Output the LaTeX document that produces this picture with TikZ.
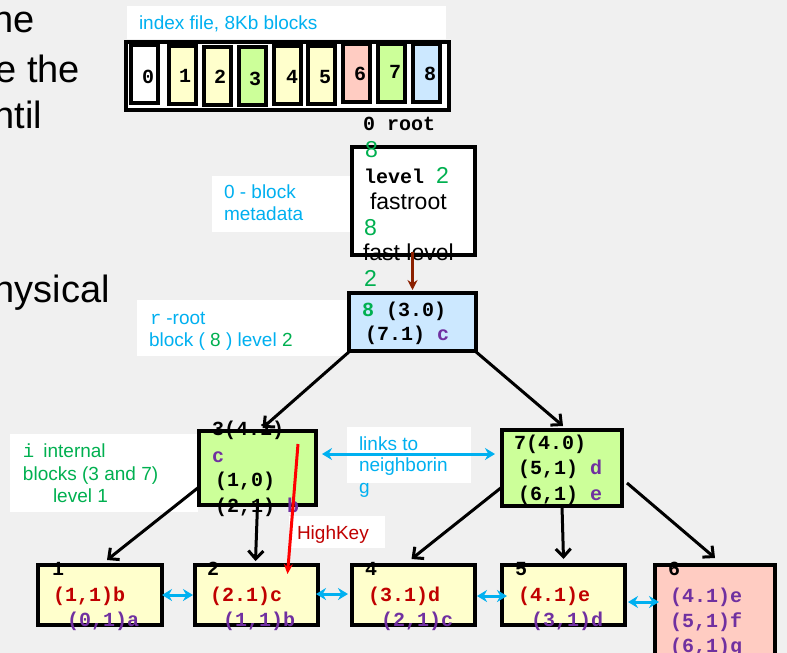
\documentclass[tikz,border=0pt]{standalone}
\usepackage{fontspec}
\setmainfont{Liberation Sans}
\setmonofont{Liberation Mono}
\usetikzlibrary{arrows.meta}

\definecolor{bg}{HTML}{F0F0F0}
\definecolor{sky}{HTML}{00B0F0}
\definecolor{leafgreen}{HTML}{00B050}
\definecolor{plum}{HTML}{7030A0}
\definecolor{brick}{HTML}{C00000}
\definecolor{cream}{HTML}{FFFFCC}
\definecolor{lime}{HTML}{CCFF99}
\definecolor{ice}{HTML}{CCE8FF}
\definecolor{blush}{HTML}{FFCCC2}
\definecolor{rust}{HTML}{8B2000}

\begin{document}
\begin{tikzpicture}[x=1pt,y=-1pt,
  box/.style={draw=black, line width=3.5pt, inner sep=0pt, outer sep=0pt, anchor=north west},
  cell/.style={box, line width=3.5pt, minimum width=27pt, minimum height=58pt},
  note/.style={fill=white, inner sep=0pt, outer sep=0pt, anchor=north west},
  txt/.style={anchor=base west, inner sep=0pt, outer sep=0pt},
  mono/.style={txt, font=\fontsize{20}{24}\selectfont\ttfamily\bfseries},
  sans/.style={txt, font=\fontsize{19}{22}\selectfont},
  meta/.style={txt, font=\fontsize{23}{26}\selectfont},
  big/.style={anchor=base east, inner sep=0pt, outer sep=0pt, font=\fontsize{38}{44}\selectfont},
  digit/.style={anchor=base, inner sep=0pt, font=\fontsize{20}{24}\selectfont\ttfamily\bfseries},
  tree/.style={draw=black, line width=3pt, -{Straight Barb[length=8pt,width=15pt]}},
  link/.style={draw=sky, line width=3pt, {Stealth[length=10pt,width=12pt]}-{Stealth[length=10pt,width=12pt]}},
]
% page background
\fill[bg] (0,0) rectangle (787,653);
\useasboundingbox (0,0) rectangle (787,653);
\clip (0,0) rectangle (787,653);

% slide text running off the left edge
\node[big] (t1) at (35,32) {he};
\node[big] (t2) at (80,82) {e the};
\node[big] (t3) at (42,128) {ntil};
\node[big] (t4) at (110,302) {hysical};

% white caption panels
\node[note, minimum width=319pt, minimum height=33pt] (idxnote) at (127,6) {};
\node[note, minimum width=138pt, minimum height=56pt] (metanote) at (212,176) {};
\node[note, minimum width=210pt, minimum height=56pt] (rootnote) at (137,300) {};
\node[note, minimum width=188pt, minimum height=78pt] (intnote) at (10,434) {};
\node[note, minimum width=124pt, minimum height=56pt] (linknote) at (347,427) {};
\node[note, minimum width=96pt, minimum height=32pt] (hknote) at (289,516) {};

\node[sans, text=sky] (idxtxt) at (139,29) {index file, 8Kb blocks};
\node[sans, text=sky] (metatxt1) at (224,198) {0 - block};
\node[sans, text=sky] (metatxt2) at (224,220) {metadata};
\node[sans, text=sky] (roottxt1) at (150,324) {{\ttfamily r}\hspace{5pt}-root};
\node[sans, text=sky] (roottxt2) at (149,346) {block ( \textcolor{leafgreen}{8} ) level \textcolor{leafgreen}{2}};
\node[sans, text=leafgreen] (inttxt1) at (23,457) {{\ttfamily i}\hspace{9pt}internal};
\node[sans, text=leafgreen] (inttxt2) at (23,480) {blocks (3 and 7)};
\node[sans, text=leafgreen] (inttxt3) at (53,502) {level 1};
\node[sans, text=sky] (linktxt1) at (359,450) {links to};
\node[sans, text=sky] (linktxt2) at (359,471) {neighborin};
\node[sans, text=sky] (linktxt3) at (359,493) {g};
\node[sans, text=brick] (hktxt) at (297,539) {HighKey};

% index file: strip of 8Kb blocks
\node[box, fill=white, line width=4pt, minimum width=323pt, minimum height=68pt] (strip) at (126,42) {};
\node[cell, fill=white] (c0) at (131,45) {};
\node[cell, fill=cream] (c1) at (169,46) {};
\node[cell, fill=cream] (c2) at (204,47) {};
\node[cell, fill=lime]  (c3) at (239,47) {};
\node[cell, fill=cream] (c4) at (274,46) {};
\node[cell, fill=cream] (c5) at (308,46) {};
\node[cell, fill=blush] (c6) at (343,44) {};
\node[cell, fill=lime]  (c7) at (378,44) {};
\node[cell, fill=ice]   (c8) at (413,44) {};
\node[digit] (d0) at (148,83) {0};
\node[digit] (d1) at (185,82) {1};
\node[digit] (d2) at (220,83) {2};
\node[digit] (d3) at (255,85) {3};
\node[digit] (d4) at (292,83) {4};
\node[digit] (d5) at (325,83) {5};
\node[digit] (d6) at (360,80) {6};
\node[digit] (d7) at (395,78) {7};
\node[digit] (d8) at (430,80) {8};

% block 0: metadata
\node[mono] (rootlbl) at (363,130) {0 root};
\node[box, fill=white, minimum width=123pt, minimum height=108pt] (meta) at (352,147) {};
\node[meta, text=leafgreen] (mt1) at (365,157) {8};
\node[mono] (mt2) at (364,183) {level {\rmfamily\fontsize{23}{26}\selectfont\mdseries\color{leafgreen}2}};
\node[meta] (mt3) at (370,209) {fastroot};
\node[meta, text=leafgreen] (mt4) at (364,235) {8};
\node[meta] (mt5) at (363,260) {fast level};
\node[meta, text=leafgreen] (mt6) at (364,286) {2};

% root block 8
\node[box, fill=ice, minimum width=127pt, minimum height=58pt] (root) at (349,293) {};
\node[mono] (r1) at (362,316) {\textcolor{leafgreen}{8} (3.0)};
\node[mono] (r2) at (365,340) {(7.1) \textcolor{plum}{c}};

% internal blocks 3 and 7
\node[box, fill=lime, minimum width=117pt, minimum height=74pt] (b3) at (199,431) {};
\node[mono] (b3a) at (212,435) {3(4.1)};
\node[mono, text=plum] (b3b) at (212,462) {c};
\node[mono] (b3c) at (215,486) {(1,0)};
\node[mono] (b3d) at (215,512) {(2,1) \textcolor{plum}{b}};

\node[box, fill=lime, minimum width=120pt, minimum height=76pt] (b7) at (502,430) {};
\node[mono] (b7a) at (514,449) {7(4.0)};
\node[mono] (b7b) at (518,474) {(5,1) \textcolor{plum}{d}};
\node[mono] (b7c) at (518,500) {(6,1) \textcolor{plum}{e}};

% leaf blocks
\node[box, fill=cream, minimum width=124pt, minimum height=60pt] (l1) at (38,565) {};
\node[box, fill=cream, minimum width=123pt, minimum height=60pt] (l2) at (195,565) {};
\node[box, fill=cream, minimum width=123pt, minimum height=60pt] (l4) at (352,565) {};
\node[box, fill=cream, minimum width=123pt, minimum height=60pt] (l5) at (502,565) {};
\node[box, fill=blush, minimum width=120pt, minimum height=100pt] (l6) at (655,565) {};

\node[mono] (l1n) at (52,575) {1};
\node[mono, text=brick] (l1a) at (53,601) {(1,1)b};
\node[mono, text=plum] (l1b) at (67,626) {(0,1)a};
\node[mono] (l2n) at (207,575) {2};
\node[mono, text=brick] (l2a) at (210,601) {(2.1)c};
\node[mono, text=plum] (l2b) at (223,626) {(1,1)b};
\node[mono] (l4n) at (365,575) {4};
\node[mono, text=brick] (l4a) at (368,601) {(3.1)d};
\node[mono, text=plum] (l4b) at (381,626) {(2,1)c};
\node[mono] (l5n) at (515,575) {5};
\node[mono, text=brick] (l5a) at (518,601) {(4.1)e};
\node[mono, text=plum] (l5b) at (531,626) {(3,1)d};
\node[mono] (l6n) at (668,575) {6};
\node[mono, text=plum] (l6a) at (670,602) {(4.1)e};
\node[mono, text=plum] (l6b) at (670,627) {(5,1)f};
\node[mono, text=plum] (l6c) at (670,652) {(6,1)g};

% metadata points at the root
\draw[rust, line width=3pt, -{Stealth[length=10pt,width=10pt]}]
  ([xshift=-1pt,yshift=3pt]meta.south) -- ([yshift=3pt]root.north);

% tree edges
\draw[tree] ([xshift=1pt]root.south west) -- ([xshift=5pt,yshift=3pt]b3.north);
\draw[tree] ([xshift=-1pt]root.south east) -- ([xshift=1pt,yshift=4pt]b7.north);
\draw[tree] ([yshift=18pt]b3.south west) -- ([xshift=7pt,yshift=5pt]l1.north);
\draw[tree] (b3.south) -- ([xshift=-1pt,yshift=4pt]l2.north);
\draw[tree] ([yshift=19pt]b7.south west) -- ([xshift=-2pt,yshift=6pt]l4.north);
\draw[tree] (b7.south) -- ([yshift=6pt]l5.north);
\draw[tree] ([xshift=5pt,yshift=-15pt]b7.east) -- ([yshift=7pt]l6.north);

% sibling links
\draw[link] ([xshift=6pt,yshift=14pt]b3.east) -- ([xshift=-7pt,yshift=14pt]b7.west);
\draw[link] (l1.east) -- ([xshift=-2pt]l2.west);
\draw[link] ([xshift=-2pt,yshift=1pt]l2.east) -- ([xshift=-4pt,yshift=1pt]l4.west);
\draw[link] ([xshift=2pt,yshift=-1pt]l4.east) -- ([xshift=5pt,yshift=-1pt]l5.west);
\draw[link] ([xshift=3pt,yshift=-7pt]l5.east) -- ([xshift=4pt,yshift=13pt]l6.west);

% high key pointer
\coordinate (hktop) at (298,444);
\draw[red, line width=3pt, -{Stealth[length=10pt,width=9pt]}]
  (hktop) -- ([xshift=31pt,yshift=-9pt]l2.north);
\end{tikzpicture}
\end{document}
